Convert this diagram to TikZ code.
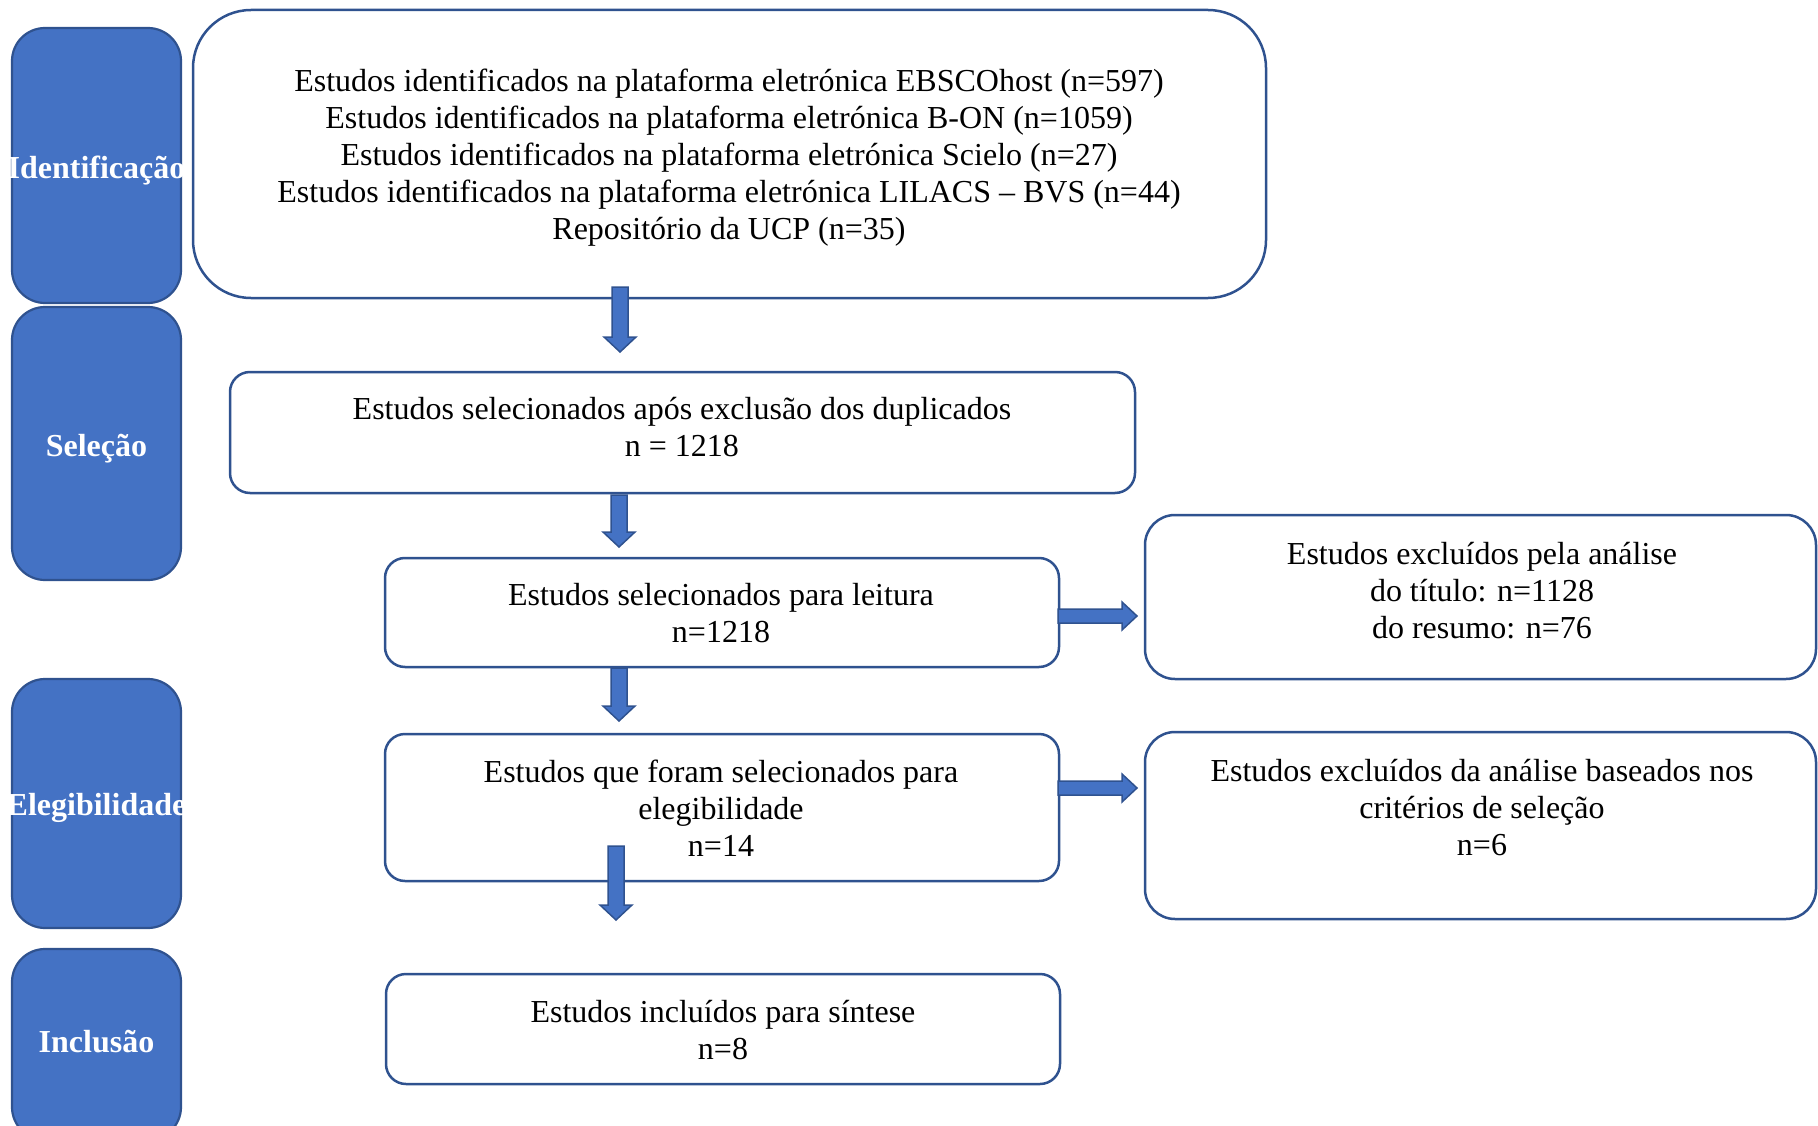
\documentclass[tikz,border=0pt]{standalone}
\usepackage{fontspec}
\setmainfont{Liberation Serif}
\usetikzlibrary{calc}
\definecolor{office}{HTML}{4472C4}
\definecolor{officedark}{HTML}{2F528F}
\newcommand\vblock[2]{\draw[blockarrow] let \p1=(#1),\p2=(#2) in (\x1-8pt,\y1) -- (\x1+8pt,\y1) -- (\x1+8pt,\y2+15pt) -- (\x1+16pt,\y2+15pt) -- (\x1,\y2) -- (\x1-16pt,\y2+15pt) -- (\x1-8pt,\y2+15pt) -- cycle;}
\newcommand\hblock[2]{\draw[blockarrow] let \p1=(#1),\p2=(#2) in (\x1,\y1-7pt) -- (\x2-15pt,\y1-7pt) -- (\x2-15pt,\y1-14pt) -- (\x2,\y1) -- (\x2-15pt,\y1+14pt) -- (\x2-15pt,\y1+7pt) -- (\x1,\y1+7pt) -- cycle;}
\begin{document}
\begin{tikzpicture}[x=1pt,y=-1pt,
 box/.style={draw=officedark, line width=2.5pt, fill=white, rounded corners=20pt, inner sep=0pt},
 phase/.style={draw=officedark, line width=2.2pt, fill=office, rounded corners=33pt, minimum width=169pt, inner sep=0pt},
 phasetxt/.style={inner sep=0pt, text=white, font=\fontsize{32}{37}\selectfont\bfseries},
 txt/.style={align=center, font=\fontsize{32}{37}\selectfont, inner sep=0pt},
 blockarrow/.style={draw=officedark, line width=1.5pt, fill=office, line join=miter}]
\useasboundingbox (0,0) rectangle (1818,1126);
% phase boxes
\node[phase, minimum height=275pt] (p1) at (96.5,165.5) {};
\node[phase, minimum height=273pt] (p2) at (96.5,443.5) {};
\node[phase, minimum height=249pt] (p3) at (96.5,803.5) {};
\node[phase, minimum height=191pt] (p4) at (96.5,1044.5) {};
\node[phasetxt] (l1) at (96.5,171) {\makebox[0pt]{Identificação}};
\node[phasetxt] (l2) at (96.5,449) {\makebox[0pt]{Seleção}};
\node[phasetxt] (l3) at (96.5,808) {\makebox[0pt]{Elegibilidade}};
\node[phasetxt] (l4) at (96.5,1042) {\makebox[0pt]{Inclusão}};
% main boxes
\node[box, rounded corners=58pt, minimum width=1073pt, minimum height=288pt] (b1) at (729.5,154) {};
\node[box, minimum width=905pt, minimum height=121pt] (b2) at (682.5,432.5) {};
\node[box, minimum width=674pt, minimum height=109pt] (b3) at (722,612.5) {};
\node[box, rounded corners=30pt, minimum width=671pt, minimum height=164pt] (b4) at (1480.5,597) {};
\node[box, minimum width=674pt, minimum height=147pt] (b5) at (722,807.5) {};
\node[box, rounded corners=30pt, minimum width=671pt, minimum height=187pt] (b6) at (1480.5,825.5) {};
\node[box, minimum width=674pt, minimum height=110pt] (b7) at (723,1029) {};
% texts
\node[txt] (t1) at (729,158) {Estudos identificados na plataforma eletrónica EBSCOhost (n=597)\\Estudos identificados na plataforma eletrónica B-ON (n=1059)\\Estudos identificados na plataforma eletrónica Scielo (n=27)\\Estudos identificados na plataforma eletrónica LILACS – BVS (n=44)\\Repositório da UCP (n=35)};
\node[txt] (t2) at (682,427) {Estudos selecionados após exclusão dos duplicados\\n = 1218};
\node[txt] (t3) at (721,613.5) {Estudos selecionados para leitura\\n=1218};
\node[txt] (t4) at (1482,591) {Estudos excluídos pela análise\\do título: n=1128\\do resumo: n=76};
\node[txt] (t5) at (721,808) {Estudos que foram selecionados para\\elegibilidade\\n=14};
\node[txt] (t6) at (1482,808) {Estudos excluídos da análise baseados nos\\critérios de seleção\\n=6};
\node[txt] (t7) at (723,1030.5) {Estudos incluídos para síntese\\n=8};
% arrow ends
\coordinate (a1s) at (620,287); \coordinate (a1e) at (620,352);
\coordinate (a2s) at (619,495); \coordinate (a2e) at (619,547);
\coordinate (a3s) at (619,668); \coordinate (a3e) at (619,721);
\coordinate (a4s) at (616,846); \coordinate (a4e) at (616,920);
\coordinate (h1s) at (1058,616); \coordinate (h1e) at (1137,616);
\coordinate (h2s) at (1058,788); \coordinate (h2e) at (1137,788);
\vblock{a1s}{a1e}
\vblock{a2s}{a2e}
\vblock{a3s}{a3e}
\vblock{a4s}{a4e}
\hblock{h1s}{h1e}
\hblock{h2s}{h2e}
\end{tikzpicture}
\end{document}
